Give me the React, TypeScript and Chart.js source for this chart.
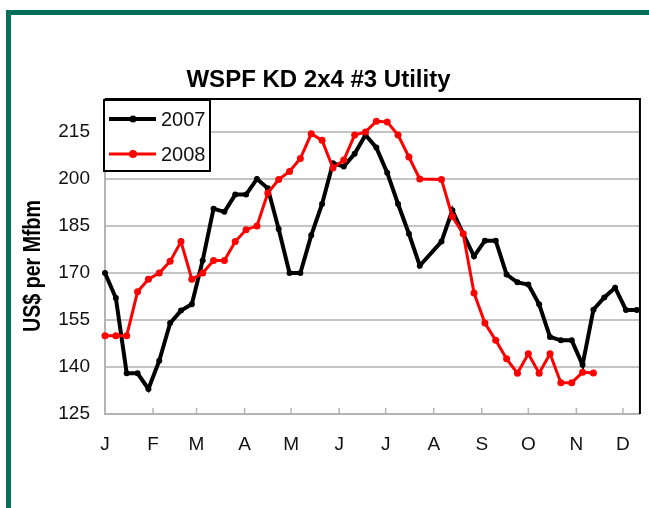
import React, { useEffect, useRef } from 'react';
import { Chart, registerables } from 'chart.js';

Chart.register(...registerables);

const TITLE = 'WSPF KD 2x4 #3 Utility';
const Y_TITLE = 'US$ per Mfbm';
const SERIES_NAMES = ['2007', '2008'];
const MONTH_LABELS = ['J', 'F', 'M', 'A', 'M', 'J', 'J', 'A', 'S', 'O', 'N', 'D'];
const MONTH_START_DAYS = [0, 31, 59, 90, 120, 151, 181, 212, 243, 273, 304, 334];
const Y_TICKS = [125, 140, 155, 170, 185, 200, 215];
const DAYS_PER_WEEK = 7;

// weekly prices, US$ per Mfbm (null = no quote that week)
const PRICES_2007 = [
  170, 162, 138, 138, 133, 142, 154, 158, 160, 174,
  190.5, 189.5, 195, 195, 200, 197, 184, 170, 170, 182,
  192, 205, 204, 208, 214, 210, 202, 192, 182.5, 172.3,
  null, 180, 190, 182.5, 175.3, 180.3, 180.3, 169.5, 167, 166.3,
  160, 149.6, 148.5, 148.5, 140.7, 158.3, 162.2, 165.3, 158.2, 158.2,
];
const PRICES_2008 = [
  150, 150, 150, 164, 168, 170, 173.7, 180, 168, 170,
  174, 174, 180, 183.8, 185, 195.5, 199.8, 202.4, 206.5, 214.4,
  212.3, 203.5, 206, 214, 215, 218.4, 218.2, 214, 207, 200,
  null, 199.8, 188, 182.5, 163.6, 154, 148.5, 142.6, 138, 144.2,
  138, 144.2, 135, 135, 138.3, 138.1,
];

const COLORS = ['#000000', '#ff0000'];
const LINE_WIDTHS = [4, 3];
const POINT_RADII = [3, 3.5];

const FONT = '"Liberation Sans", Arial, sans-serif';

const toPoints = (arr: (number | null)[]) =>
  arr.map((v, i) => ({ x: i * DAYS_PER_WEEK, y: v }));

const decorPlugin = {
  id: 'decor',
  afterDraw(chart: any) {
    const { ctx, chartArea: a, scales } = chart;
    ctx.save();
    // black frame top & right
    ctx.strokeStyle = '#000';
    ctx.lineWidth = 2;
    ctx.beginPath();
    ctx.moveTo(a.left, a.top);
    ctx.lineTo(a.right, a.top);
    ctx.lineTo(a.right, a.bottom);
    ctx.stroke();

    // inward month tick marks
    ctx.strokeStyle = '#b4b4b4';
    ctx.lineWidth = 1.5;
    MONTH_START_DAYS.forEach((d) => {
      if (d === 0) return;
      const x = scales.x.getPixelForValue(d);
      ctx.beginPath();
      ctx.moveTo(x, a.bottom);
      ctx.lineTo(x, a.bottom - 6);
      ctx.stroke();
    });

    // title
    ctx.fillStyle = '#000';
    ctx.font = `bold 24px ${FONT}`;
    ctx.textAlign = 'center';
    ctx.textBaseline = 'alphabetic';
    ctx.fillText(TITLE, 318.5, 87);

    // y-axis title (condensed)
    ctx.save();
    ctx.translate(40, 266);
    ctx.rotate(-Math.PI / 2);
    ctx.font = `bold 24px ${FONT}`;
    const w = ctx.measureText(Y_TITLE).width;
    ctx.scale(132 / w, 1);
    ctx.textAlign = 'center';
    ctx.fillText(Y_TITLE, 0, 0);
    ctx.restore();

    // legend
    const lx = a.left - 1;
    const ly = a.top + 1;
    const lw = 106;
    const lh = 71;
    ctx.fillStyle = '#fff';
    ctx.fillRect(lx, ly, lw, lh);
    ctx.strokeStyle = '#000';
    ctx.lineWidth = 2;
    ctx.strokeRect(lx, ly, lw, lh);
    SERIES_NAMES.forEach((name, i) => {
      const cy = ly + 19 + i * 35;
      ctx.strokeStyle = COLORS[i];
      ctx.lineWidth = LINE_WIDTHS[i];
      ctx.beginPath();
      ctx.moveTo(lx + 5, cy);
      ctx.lineTo(lx + 52, cy);
      ctx.stroke();
      ctx.fillStyle = COLORS[i];
      ctx.beginPath();
      ctx.arc(lx + 29, cy, POINT_RADII[i] + 0.5, 0, Math.PI * 2);
      ctx.fill();
      ctx.fillStyle = '#111';
      ctx.font = `20px ${FONT}`;
      ctx.textAlign = 'left';
      ctx.textBaseline = 'middle';
      ctx.fillText(name, lx + 57, cy + 1);
    });
    ctx.restore();
  },
};

export default function App() {
  const ref = useRef<HTMLCanvasElement | null>(null);
  useEffect(() => {
    if (!ref.current) return;
    const series = [PRICES_2007, PRICES_2008];
    const chart = new Chart(ref.current, {
      type: 'line',
      data: {
        datasets: series.map((arr, i) => ({
          label: SERIES_NAMES[i],
          data: toPoints(arr) as any,
          borderColor: COLORS[i],
          backgroundColor: COLORS[i],
          borderWidth: LINE_WIDTHS[i],
          pointRadius: POINT_RADII[i],
          pointBorderWidth: 0,
          pointBackgroundColor: COLORS[i],
          tension: 0,
          spanGaps: true,
          clip: false as any,
          order: 2 - i,
        })),
      },
      options: {
        responsive: false,
        animation: false,
        layout: { padding: { top: 99, right: 8, left: 0, bottom: 0 } },
        plugins: {
          legend: { display: false },
          title: { display: false },
          tooltip: { enabled: false },
        },
        scales: {
          x: {
            type: 'linear',
            min: 0,
            max: 345,
            afterBuildTicks: (scale: any) => {
              scale.ticks = MONTH_START_DAYS.map((v) => ({ value: v }));
            },
            afterFit: (scale: any) => {
              scale.height = 94;
            },
            grid: { display: true, drawOnChartArea: false, drawTicks: false },
            border: { display: true, color: '#b4b4b4', width: 2 },
            ticks: {
              autoSkip: false,
              maxRotation: 0,
              padding: 19,
              color: '#111',
              font: { family: FONT, size: 19 },
              callback: (v: any) => {
                const idx = MONTH_START_DAYS.indexOf(Number(v));
                return idx >= 0 ? MONTH_LABELS[idx] : '';
              },
            },
          },
          y: {
            type: 'linear',
            min: 125,
            max: 225.5,
            afterBuildTicks: (scale: any) => {
              scale.ticks = Y_TICKS.map((v) => ({ value: v }));
            },
            afterFit: (scale: any) => {
              scale.width = 105;
            },
            grid: { color: '#c4c4c4', lineWidth: 2, drawTicks: false },
            border: { display: true, color: '#b4b4b4', width: 2 },
            ticks: {
              padding: 15,
              color: '#111',
              font: { family: FONT, size: 19 },
              callback: (v: any) => String(v),
            },
          },
        },
      },
      plugins: [decorPlugin],
    });
    return () => chart.destroy();
  }, []);

  return (
    <div style={{ position: 'absolute', left: 0, top: 0, width: 649, height: 508, background: '#fff', overflow: 'hidden' }}>
      <div
        style={{
          position: 'absolute',
          left: 6,
          top: 10,
          right: 0,
          bottom: 0,
          borderTop: '5px solid #00705a',
          borderLeft: '5px solid #00705a',
        }}
      />
      <canvas ref={ref} width={649} height={508} style={{ position: 'absolute', left: 0, top: 0, width: 649, height: 508 }} />
    </div>
  );
}
